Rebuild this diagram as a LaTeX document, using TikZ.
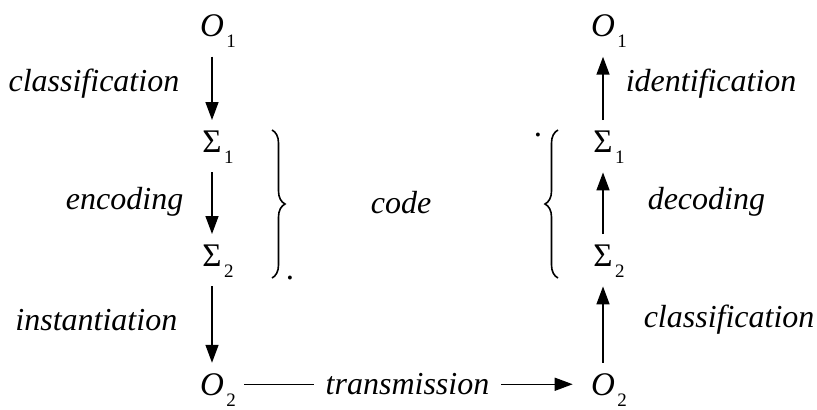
\documentclass[tikz,border=0pt]{standalone}
\usepackage{fontspec}
\setmainfont{Liberation Serif}
\usetikzlibrary{arrows.meta,decorations.pathreplacing}

\tikzset{
	zeichen/.style={inner sep=0pt, font=\fontsize{16.5}{19}\selectfont},
	nummer/.style={label={[inner sep=0pt, font=\fontsize{9.5}{11}\selectfont,
		anchor=north west, xshift=0.8pt, yshift=1pt]south east:#1}},
	beschr/.style={inner sep=0pt, font=\fontsize{16}{19}\selectfont\itshape},
	pfeil/.style={line width=0.75pt, -{Triangle[length=9pt,width=6.5pt]}},
	klammer/.style={line width=0.8pt, decorate,
		decoration={brace, amplitude=6.5pt}}
}

\begin{document}
\begin{tikzpicture}[x=0.5pt, y=-0.5pt]
	\useasboundingbox (0,0) rectangle (817,409);

	% Spalte links
	\node[zeichen, nummer=1, anchor=base] (o1l) at (212,36) {\textit{O}};
	\node[zeichen, nummer=1, anchor=base] (s1l) at (212,152) {Σ};
	\node[zeichen, nummer=2, anchor=base] (s2l) at (212,266) {Σ};
	\node[zeichen, nummer=2, anchor=base] (o2l) at (212,395) {\textit{O}};
	% Spalte rechts
	\node[zeichen, nummer=1, anchor=base] (o1r) at (603,36) {\textit{O}};
	\node[zeichen, nummer=1, anchor=base] (s1r) at (603,152) {Σ};
	\node[zeichen, nummer=2, anchor=base] (s2r) at (603,266) {Σ};
	\node[zeichen, nummer=2, anchor=base] (o2r) at (603,395) {\textit{O}};

	% Pfeile links
	\draw[pfeil, shorten <=10pt, shorten >=5pt] (o1l) --
		node[beschr, left=16pt] {classification} (s1l);
	\draw[pfeil, shorten <=10pt, shorten >=5pt] (s1l) --
		node[beschr, left=14pt, yshift=-2pt] {encoding} (s2l);
	\draw[pfeil, shorten <=10pt, shorten >=5pt] (s2l) --
		node[beschr, left=17pt] {instantiation} (o2l);
	% Pfeile rechts
	\draw[pfeil, shorten <=5pt, shorten >=10pt] (s1r) --
		node[beschr, right=11pt] {identification} (o1r);
	\draw[pfeil, shorten <=5pt, shorten >=10pt] (s2r) --
		node[beschr, right=22pt, yshift=-2pt] {decoding} (s1r);
	\draw[pfeil, shorten <=5pt, shorten >=10pt] (o2r) --
		node[beschr, right=20pt] {classification} (s2r);

	% Uebertragung
	\draw[pfeil, shorten <=10pt, shorten >=9pt] (o2l) --
		node[beschr, fill=white, inner xsep=6pt] {transmission} (o2r);

	% Klammern
	\draw[klammer] (272,130) -- (272,278);
	\node[zeichen, anchor=base] (punktl) at (290,279) {.};
	\draw[klammer] (558,278) -- (558,130);
	\node[zeichen, anchor=base] (punktr) at (538,136) {.};
	\node[beschr, anchor=base] (code) at (401,213) {code};
\end{tikzpicture}
\end{document}
